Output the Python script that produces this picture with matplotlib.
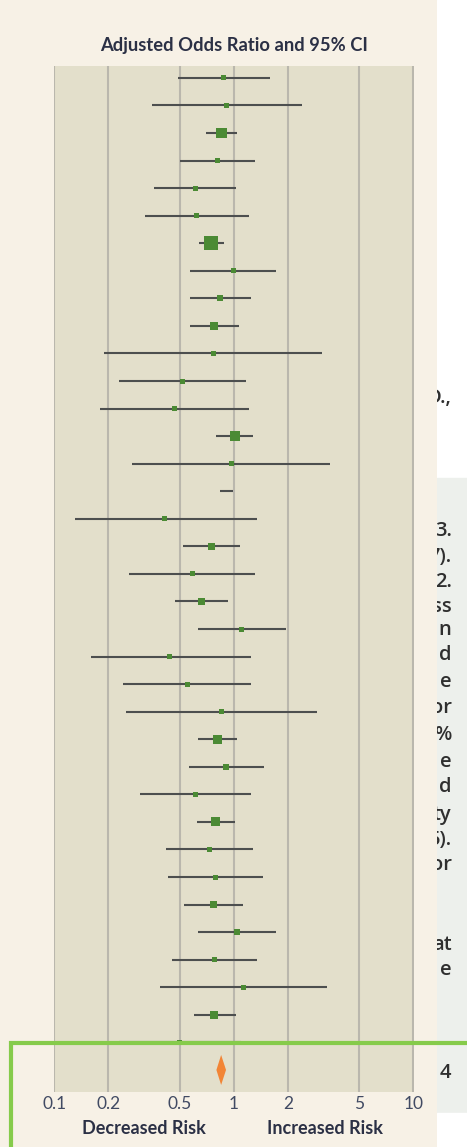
import numpy as np
import matplotlib

matplotlib.use("Agg")
import matplotlib.pyplot as plt
from matplotlib.patches import Rectangle

plt.rcParams["font.family"] = ["Lato", "DejaVu Sans"]

# per-study adjusted odds ratios with 95% confidence limits
odds_ratio = [0.88, 0.91, 0.85, 0.81, 0.61, 0.62, 0.75, 0.99, 0.84, 0.78,
              0.77, 0.52, 0.47, 1.01, 0.97, np.nan, 0.41, 0.75, 0.59, 0.66,
              1.11, 0.44, 0.55, 0.85, 0.81, 0.90, 0.61, 0.79, 0.73, 0.79,
              0.77, 1.04, 0.78, 1.13, 0.78, 0.50]
ci_low = [0.49, 0.35, 0.70, 0.50, 0.36, 0.32, 0.64, 0.57, 0.57, 0.57,
          0.19, 0.23, 0.18, 0.80, 0.27, 0.84, 0.13, 0.52, 0.26, 0.47,
          0.63, 0.16, 0.24, 0.25, 0.63, 0.56, 0.30, 0.62, 0.42, 0.43,
          0.53, 0.63, 0.45, 0.39, 0.60, 0.23]
ci_high = [1.60, 2.41, 1.04, 1.32, 1.03, 1.22, 0.88, 1.72, 1.25, 1.07,
           3.11, 1.17, 1.21, 1.28, 3.45, 0.99, 1.34, 1.08, 1.32, 0.93,
           1.95, 1.24, 1.25, 2.91, 1.04, 1.47, 1.25, 1.01, 1.28, 1.46,
           1.13, 1.71, 1.35, 3.29, 1.03, 1.09]
# relative study weight (drives the square size)
weight = [1.0, 1.0, 4.8, 1.0, 1.0, 1.0, 7.8, 1.0, 1.4, 2.6,
          1.0, 1.0, 1.0, 4.0, 1.0, 0.0, 1.0, 2.0, 1.0, 2.0,
          1.0, 1.0, 1.0, 1.0, 3.2, 1.4, 1.0, 3.2, 1.0, 1.0,
          2.0, 1.4, 1.0, 1.0, 2.6, 1.0]

pooled_or, pooled_low, pooled_high = 0.85, 0.80, 0.905

tick_values = [0.1, 0.2, 0.5, 1, 2, 5, 10]
tick_labels = ["0.1", "0.2", "0.5", "1", "2", "5", "10"]

# clipped words of the neighbouring text column
side_words = [(398, "D.,"), (531, "3."), (557, "7)."), (582, "2."),
              (607, "ss"), (630, "n"), (655, "d"), (682, "e"), (708, "or"),
              (735, "%"), (762, "e"), (787, "d"), (815, "ty"), (840, "5)."),
              (865, "or"), (945, "at"), (970, "e"), (1073, "4")]

W, H = 467, 1147
CREAM = "#f7f1e6"
PANEL = "#e3dfcb"
GRID = "#bab7ad"
WHISKER = "#4d4f4f"
SQUARE = "#4b8a34"
DIAMOND = "#f28536"
INK = "#2b3045"
TICK_INK = "#414a63"


def fig_box(left, top, right, bottom):
    return [left / W, 1 - bottom / H, (right - left) / W, (bottom - top) / H]


fig = plt.figure(figsize=(W / 100, H / 100), dpi=100, facecolor=CREAM)

# neighbouring column: white above, pale grey panel below
side = fig.add_axes(fig_box(437, 0, 467, H))
side.set_xlim(437, 467)
side.set_ylim(H, 0)
side.axis("off")
side.add_patch(Rectangle((437, 0), 30, 478, color="white", zorder=0))
side.add_patch(Rectangle((437, 478), 30, 635, color="#edf0ec", zorder=0))
side.add_patch(Rectangle((437, 1113), 30, 40, color="white", zorder=0))
for y, word in side_words:
    side.text(451.5, y, word, ha="right", va="center", fontsize=14.5,
              color="#2f2f2f", fontweight="semibold",
              fontfamily=["Open Sans", "DejaVu Sans"], clip_on=True)

ax = fig.add_axes(fig_box(53.5, 65.5, 414.3, 1092))
ax.set_facecolor(PANEL)
ax.set_xscale("log")
ax.set_xlim(10 ** (-1 - 0.8 / 179.5), 10 ** (1 + 1.0 / 179.5))
ax.set_ylim(36.8, -0.45)

rows = np.arange(len(odds_ratio))
ax.hlines(rows, ci_low, ci_high, color=WHISKER, linewidth=1.5, zorder=3)
side_pt = 5 * np.sqrt(np.array(weight)) * 0.72
ax.scatter(odds_ratio, rows, s=side_pt ** 2, marker="s", color=SQUARE,
           linewidths=0, zorder=4)

pooled_row = len(odds_ratio)
ax.fill([pooled_low, pooled_or, pooled_high, pooled_or],
        [pooled_row, pooled_row - 0.545, pooled_row, pooled_row + 0.545],
        color=DIAMOND, linewidth=0, zorder=4)

ax.set_xticks(tick_values)
ax.set_xticklabels(tick_labels)
ax.xaxis.set_minor_locator(matplotlib.ticker.NullLocator())
ax.set_yticks([])
ax.tick_params(axis="x", length=0, pad=3.0, labelsize=12.5, labelcolor=TICK_INK)
ax.grid(axis="x", color=GRID, linewidth=1.5, zorder=1)
ax.set_axisbelow(True)
for spine in ax.spines.values():
    spine.set_visible(False)

fig.text(233.8 / W, 1 - 45 / H, "Adjusted Odds Ratio and 95% CI", ha="center",
         va="center", fontsize=13.2, fontweight="bold", color=INK)
fig.text(143.7 / W, 1 - 1129 / H, "Decreased Risk", ha="center", va="center",
         fontsize=13, fontweight="bold", color=INK)
fig.text(325 / W, 1 - 1129 / H, "Increased Risk", ha="center", va="center",
         fontsize=13, fontweight="bold", color=INK)

# highlight frame around the pooled estimate
fig.add_artist(Rectangle((11 / W, 1 - 1170 / H), (490 - 11) / W, (1170 - 1043) / H,
                         transform=fig.transFigure, fill=False,
                         edgecolor="#86cb4b", linewidth=3, zorder=10))

fig.savefig("out.png", dpi=100, facecolor=CREAM)
